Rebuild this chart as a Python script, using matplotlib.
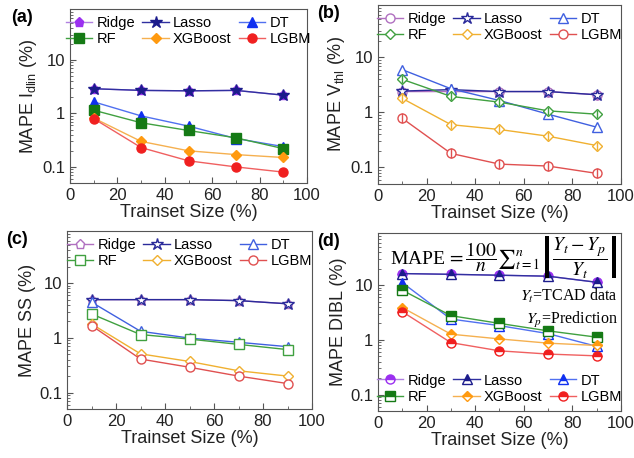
import numpy as np
import matplotlib
matplotlib.use('Agg')
import matplotlib.pyplot as plt
from matplotlib.ticker import MultipleLocator, LogLocator, NullFormatter

plt.rcParams['font.family'] = ['Liberation Sans', 'DejaVu Sans']
plt.rcParams['mathtext.fontset'] = 'custom'
plt.rcParams['mathtext.rm'] = 'Liberation Sans'
plt.rcParams['mathtext.it'] = 'Liberation Sans:italic'

# train set sizes (%)
sizes = [10, 30, 50, 70, 90]
models = ['Ridge', 'Lasso', 'DT', 'RF', 'XGBoost', 'LGBM']

# (a) MAPE Idlin
a_ridge = [2.9, 2.7, 2.65, 2.7, 2.2]
a_lasso = [2.9, 2.7, 2.65, 2.7, 2.2]
a_dt = [1.65, 0.9, 0.58, 0.34, 0.24]
a_rf = [1.15, 0.67, 0.48, 0.35, 0.22]
a_xgb = [0.82, 0.3, 0.2, 0.17, 0.15]
a_lgbm = [0.8, 0.23, 0.13, 0.1, 0.08]

# (b) MAPE Vthl
b_ridge = [2.4, 2.4, 2.4, 2.4, 2.1]
b_lasso = [2.45, 2.6, 2.4, 2.4, 2.1]
b_dt = [6.0, 2.7, 1.65, 0.93, 0.54]
b_rf = [4.0, 1.96, 1.54, 1.07, 0.93]
b_xgb = [1.8, 0.6, 0.49, 0.37, 0.25]
b_lgbm = [0.78, 0.18, 0.115, 0.106, 0.078]

# (c) MAPE SS
c_ridge = [5.0, 5.0, 5.0, 4.8, 4.2]
c_lasso = [5.0, 5.0, 5.0, 4.8, 4.2]
c_dt = [4.5, 1.32, 0.99, 0.83, 0.69]
c_rf = [2.74, 1.15, 0.95, 0.76, 0.61]
c_xgb = [1.8, 0.51, 0.37, 0.25, 0.2]
c_lgbm = [1.68, 0.41, 0.29, 0.2, 0.146]

# (d) MAPE DIBL
d_ridge = [16.3, 15.8, 15.2, 14.6, 11.3]
d_lasso = [16.3, 15.8, 15.2, 14.6, 11.3]
d_dt = [11.1, 2.4, 1.82, 1.3, 0.76]
d_rf = [8.1, 2.77, 2.0, 1.46, 1.12]
d_xgb = [3.9, 1.27, 1.04, 0.87, 0.79]
d_lgbm = [3.27, 0.89, 0.63, 0.55, 0.51]

panels = [
    ('(a)', r'MAPE I$_{\mathrm{dlin}}$ (%)', [a_ridge, a_lasso, a_dt, a_rf, a_xgb, a_lgbm], 'full'),
    ('(b)', r'MAPE V$_{\mathrm{thl}}$ (%)', [b_ridge, b_lasso, b_dt, b_rf, b_xgb, b_lgbm], 'bar'),
    ('(c)', 'MAPE SS (%)', [c_ridge, c_lasso, c_dt, c_rf, c_xgb, c_lgbm], 'none'),
    ('(d)', 'MAPE DIBL (%)', [d_ridge, d_lasso, d_dt, d_rf, d_xgb, d_lgbm], 'top'),
]

colors = ['#9b30f0', '#1c1c8c', '#1030f0', '#157a15', '#ff9a10', '#f02020']
line_colors = ['#b080e0', '#3030a0', '#5070f0', '#40a040', '#f5b050', '#f06060']
soft_colors = ['#b070c0', '#2a2a9a', '#4060e0', '#40a040', '#f0b030', '#e05050']
markers_by_style = {
    'full': ['p', '*', '^', 's', 'D', 'o'],
    'bar': ['o', '*', '^', 'D', 'D', 'o'],
    'none': ['p', '*', '^', 's', 'D', 'o'],
    'top': ['o', '^', '^', 's', 'D', 'o'],
}

fig = plt.figure(figsize=(6.34, 4.58), dpi=100)
boxes = [
    (70, 9, 307, 183),
    (378, 5, 621, 184),
    (67, 231, 312, 409),
    (378, 233, 621, 411),
]
W, H = 634, 458
order = [0, 3, 1, 4, 2, 5]

for (tag, ylab, series, style), (x0, y0, x1, y1) in zip(panels, boxes):
    ax = fig.add_axes([x0 / W, 1 - y1 / H, (x1 - x0) / W, (y1 - y0) / H])
    handles = []
    for i, vals in enumerate(series):
        mk = markers_by_style[style][i]
        ms = 6.5 if mk != '*' else 9
        if mk == 'D':
            ms = 5.5
        if style == 'full':
            h, = ax.plot(sizes, vals, color=line_colors[i], lw=1, marker=mk, ms=ms,
                         mfc=colors[i], mec=colors[i], label=models[i])
        elif style == 'top':
            h, = ax.plot(sizes, vals, color=line_colors[i], lw=1, marker=mk, ms=ms,
                         mfc=colors[i], mec=colors[i], fillstyle='top',
                         markerfacecoloralt='white', label=models[i])
        else:
            c = soft_colors[i]
            h, = ax.plot(sizes, vals, color=c, lw=1, marker=mk, ms=ms,
                         mfc='white', mec=c, mew=1, label=models[i])
            if style == 'bar' and mk in ('o', 'D'):
                ax.plot(sizes, vals, ls='none', marker='|', ms=ms, mec=c, mew=1)
        handles.append(h)

    ax.set_yscale('log')
    ax.set_ylim(0.05, 90)
    ax.set_xlim(0, 100)
    ax.xaxis.set_major_locator(MultipleLocator(20))
    ax.xaxis.set_minor_locator(MultipleLocator(10))
    ax.yaxis.set_minor_locator(LogLocator(base=10, subs=np.arange(2, 10), numticks=10))
    ax.yaxis.set_minor_formatter(NullFormatter())
    ax.set_yticks([0.1, 1, 10])
    ax.set_yticklabels(['0.1', '1', '10'])
    ax.tick_params(which='both', direction='in', colors='#555555', labelcolor='#222222',
                   labelsize=12)
    ax.tick_params(which='major', length=4)
    ax.tick_params(which='minor', length=2)
    for sp in ax.spines.values():
        sp.set_color('#555555')
    ax.set_xlabel('Trainset Size (%)', fontsize=13, color='#222222', labelpad=1)
    ax.set_ylabel(ylab, fontsize=13, color='#222222', labelpad=2)

    hs = [handles[k] for k in order]
    ls = [models[k] for k in order]
    if style == 'top':
        ax.legend(hs, ls, ncol=3, loc='lower center', frameon=False, fontsize=10.5,
                  handlelength=1.8, handletextpad=0.3, columnspacing=0.5,
                  labelspacing=0.15, borderaxespad=0.1)
        ax.text(0.985, 0.995,
                r'MAPE$\,=\dfrac{100}{n}\sum{}_{t=1}^{n}\left|\dfrac{Y_t-Y_p}{Y_t}\right|$',
                transform=ax.transAxes, ha='right', va='top', fontsize=14,
                family=['Liberation Serif', 'DejaVu Serif'], math_fontfamily='stix')
        ax.text(0.985, 0.70, r'$Y_t$=TCAD data', transform=ax.transAxes, ha='right',
                va='top', fontsize=11.5, family=['Liberation Serif', 'DejaVu Serif'],
                math_fontfamily='stix')
        ax.text(0.985, 0.57, r'$Y_p$=Prediction', transform=ax.transAxes, ha='right',
                va='top', fontsize=11.5, family=['Liberation Serif', 'DejaVu Serif'],
                math_fontfamily='stix')
    else:
        ax.legend(hs, ls, ncol=3, loc='upper center', frameon=False, fontsize=10.5,
                  handlelength=1.8, handletextpad=0.3, columnspacing=0.5,
                  labelspacing=0.15, borderaxespad=0.1)
    ax.text(-0.25, 1.0, tag, transform=ax.transAxes, fontsize=13, fontweight='bold',
            ha='left', va='top')

fig.savefig('out.png', dpi=100)
